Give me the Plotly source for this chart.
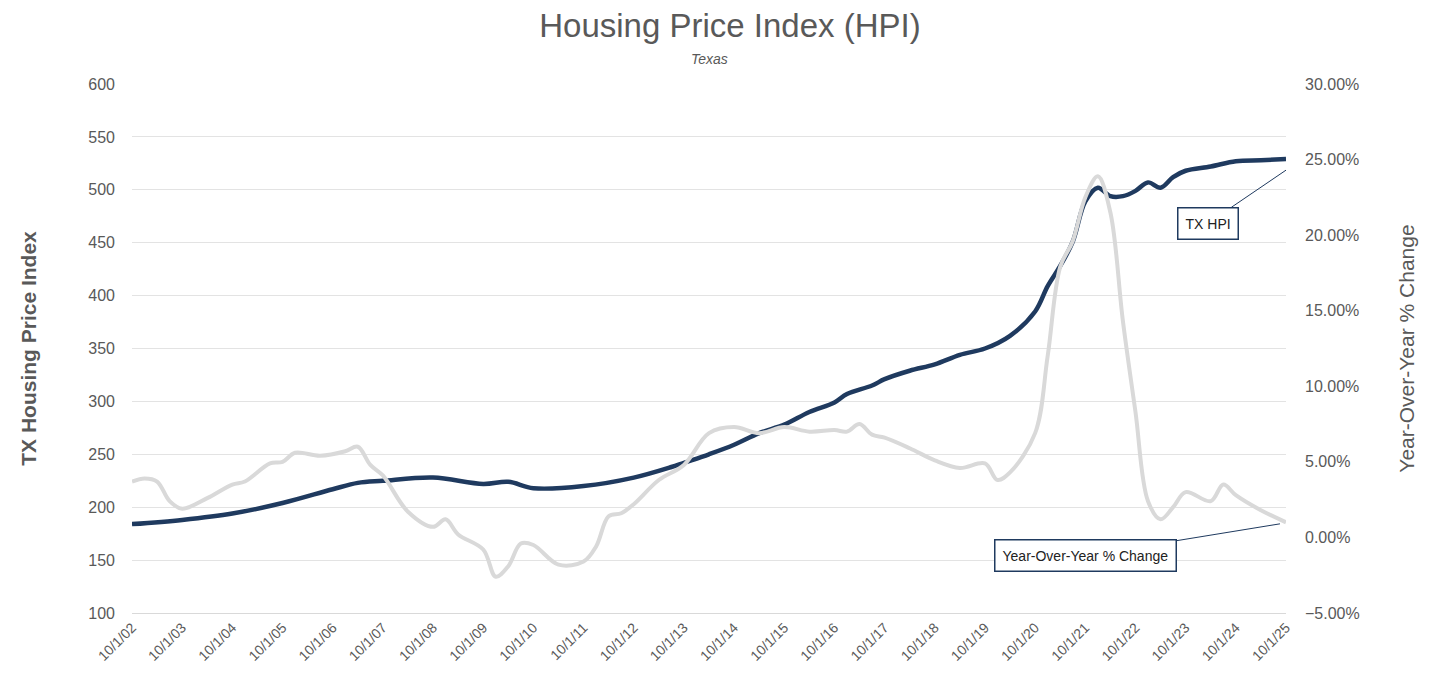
import plotly.graph_objects as go

hpi_t = [2002.75,2003.75,2004.75,2005.75,2006.75,2007.25,2007.75,2008.75,2009.75,2010.25,2010.75,2011.75,2012.75,2013.5,2013.75,2014.25,2014.75,2015.25,2015.75,2016.25,2016.75,2017.0,2017.5,2017.75,2018.25,2018.75,2019.25,2019.75,2020.25,2020.75,2021.0,2021.25,2021.5,2021.75,2022.0,2022.25,2022.5,2022.75,2023.0,2023.25,2023.5,2023.75,2024.25,2024.75,2025.25,2025.75]
hpi_v = [184,188,194,204,217,223,225,228,222,224,218,220,228,238,242,250,259,270,278,290,299,307,315,321,329,335,344,350,362,385,409,428,451,489,502,494,494,499,507,502,512,518,522,527,528,529]
yoy_t = [2002.75,2003.0,2003.25,2003.5,2003.75,2004.25,2004.75,2005.0,2005.5,2005.75,2006.0,2006.5,2007.0,2007.25,2007.5,2007.75,2008.25,2008.75,2009.0,2009.25,2009.75,2010.0,2010.25,2010.5,2010.75,2011.25,2011.75,2012.0,2012.25,2012.5,2012.75,2013.25,2013.75,2014.25,2014.75,2015.25,2015.75,2016.25,2016.75,2017.0,2017.25,2017.5,2017.75,2018.25,2018.75,2019.25,2019.75,2020.0,2020.25,2020.75,2021.0,2021.25,2021.5,2021.75,2022.0,2022.25,2022.5,2022.75,2023.0,2023.25,2023.5,2023.75,2024.25,2024.5,2024.75,2025.25,2025.75]
yoy_v = [3.7,3.9,3.7,2.4,1.9,2.6,3.5,3.7,4.9,5.0,5.6,5.4,5.7,6.0,4.8,4.1,1.7,0.7,1.2,0.2,-0.8,-2.6,-1.9,-0.4,-0.5,-1.8,-1.6,-0.6,1.4,1.6,2.2,3.8,4.8,6.9,7.3,6.9,7.3,7.0,7.1,7.0,7.5,6.8,6.6,5.9,5.1,4.6,4.9,3.8,4.3,6.9,12.0,17.9,19.6,22.5,23.9,21.5,14.3,8.3,2.4,1.2,2.0,3.0,2.4,3.5,2.8,1.8,1.0]
tick_years = list(range(2002, 2026))
tick_labels = [f"10/1/{y%100:02d}" for y in tick_years]

fig = go.Figure()
fig.add_trace(go.Scatter(x=yoy_t, y=yoy_v, yaxis="y2", mode="lines",
    line=dict(color="#d9d9d9", width=4, shape="spline"), name="Year-Over-Year % Change"))
fig.add_trace(go.Scatter(x=hpi_t, y=hpi_v, mode="lines",
    line=dict(color="#1f3a5f", width=4.5, shape="spline"), name="TX HPI"))

fig.update_layout(
    width=1444, height=685, showlegend=False,
    paper_bgcolor="white", plot_bgcolor="white",
    margin=dict(l=124, r=166, t=76, b=80, autoexpand=False),
    font=dict(family="Liberation Sans, Arial", color="#595959", size=16),
    title=dict(text="Housing Price Index (HPI)", x=0.5, xanchor="center", y=0.975, yanchor="middle",
               font=dict(size=33, color="#595959")),
    xaxis=dict(range=[2002.75, 2025.75], tickvals=[y+0.75 for y in tick_years], ticktext=tick_labels,
               tickangle=-45, showgrid=False, showline=True, linecolor="#d9d9d9", zeroline=False,
               tickfont=dict(size=14)),
    yaxis=dict(range=[100, 600], dtick=50, gridcolor="#e3e3e3", zeroline=False, ticklabelstandoff=16,
               title=dict(text="<b>TX Housing Price Index</b>", font=dict(size=21), standoff=45)),
    yaxis2=dict(range=[-5, 30], dtick=5, overlaying="y", side="right", showgrid=False, zeroline=False,
                tickformat=".2f", ticksuffix="%", ticklabelstandoff=18,
                title=dict(text="Year-Over-Year % Change", font=dict(size=21), standoff=40)),
)
fig.add_annotation(text="<i>Texas</i>", xref="paper", yref="paper", x=0.5, y=1.0, yshift=25,
                   yanchor="middle", showarrow=False, font=dict(size=14, color="#595959"))
fig.add_annotation(text="TX HPI", x=2025.75, y=24.3, xref="x", yref="y2", ax=2024.2, ay=20.8,
                   axref="x", ayref="y2", showarrow=True, arrowhead=0, arrowcolor="#1f3a5f",
                   bordercolor="#1f3a5f", borderwidth=1.5, borderpad=7, bgcolor="white",
                   font=dict(size=14, color="#222"))
fig.add_annotation(text="Year-Over-Year % Change", x=2025.63, y=0.9, xref="x", yref="y2",
                   ax=2021.75, ay=-1.2, axref="x", ayref="y2",
                   showarrow=True, arrowhead=0, arrowcolor="#1f3a5f",
                   bordercolor="#1f3a5f", borderwidth=1.5, borderpad=7, bgcolor="white",
                   font=dict(size=14, color="#222"))
fig.write_html("out.html")
